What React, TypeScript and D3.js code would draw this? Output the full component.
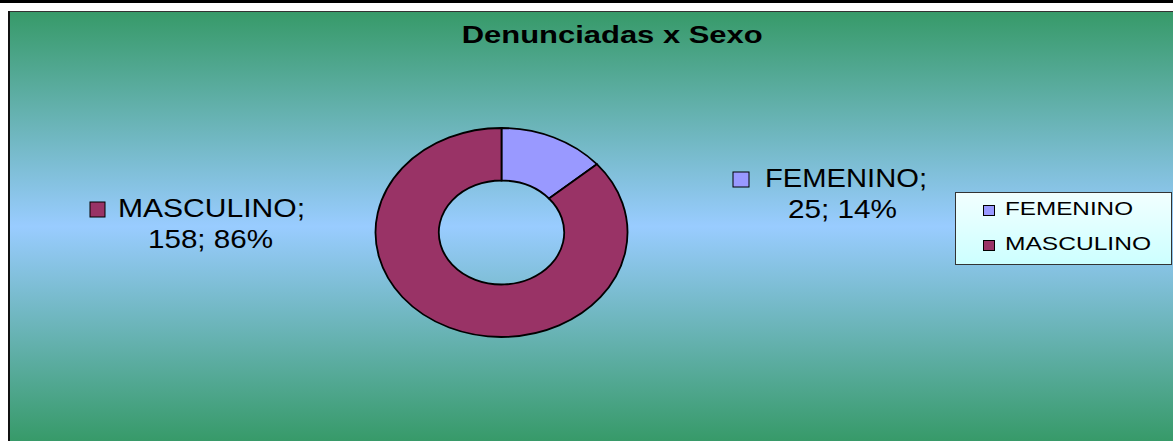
import React from "react";
import * as d3 from "d3";

const categories = ["FEMENINO", "MASCULINO"];
const values = [25, 158];
const colors = ["#9999ff", "#993366"];
const title = "Denunciadas x Sexo";

const W = 1173;
const H = 441;
const FONT = "'Liberation Sans', Arial, Helvetica, sans-serif";

export default function App() {
  const total = d3.sum(values);
  const pct = d3.format(".0%");
  const pie = d3.pie<number>().sort(null).startAngle(0).endAngle(2 * Math.PI);
  const arcs = pie(values);
  const ry = 104.5;
  const rx = 126;
  const arc = d3.arc<d3.PieArcDatum<number>>().innerRadius(52).outerRadius(ry);

  // label layout (positions only)
  const labelLayout = [
    { sq: [733, 172, 18], l1: [765, 187, 162], l2: [788, 218, 109] },
    { sq: [90, 202, 17], l1: [118, 217, 187], l2: [148, 248, 125] },
  ];
  const legendRows = [
    { sq: [983, 205, 11], t: [1005, 215, 128] },
    { sq: [983, 240, 11], t: [1005, 250, 146] },
  ];

  return (
    <svg width={W} height={H} style={{ position: "absolute", left: 0, top: 0 }} fontFamily={FONT}>
      <defs>
        <linearGradient id="bg" x1="0" y1="12" x2="0" y2="441" gradientUnits="userSpaceOnUse">
          <stop offset="0" stopColor="#379a69" />
          <stop offset="0.5" stopColor="#99ccff" />
          <stop offset="1" stopColor="#379a69" />
        </linearGradient>
        <linearGradient id="lg" x1="0" y1="0" x2="0" y2="1">
          <stop offset="0" stopColor="#f2ffff" />
          <stop offset="1" stopColor="#ccffff" />
        </linearGradient>
      </defs>
      <rect x={0} y={0} width={W} height={H} fill="#ffffff" />
      <rect x={0} y={0} width={W} height={3} fill="#000000" />
      <rect x={9} y={11} width={W - 9} height={H - 11} fill="url(#bg)" />
      <line x1={8} y1={11.5} x2={W} y2={11.5} stroke="#333333" strokeWidth={1.2} />
      <line x1={9} y1={11} x2={9} y2={H} stroke="#111111" strokeWidth={2} />

      <text x={461.7} y={43.3} fontSize={23} fontWeight="bold" fill="#000" textLength={301} lengthAdjust="spacingAndGlyphs">
        {title}
      </text>

      <g transform={`translate(501.5,232.5) scale(${rx / ry},1)`}>
        {arcs.map((a, i) => (
          <path
            key={categories[i]}
            d={arc(a) || ""}
            fill={colors[i]}
            stroke="#000"
            strokeWidth={1.8}
            vectorEffect="non-scaling-stroke"
          />
        ))}
      </g>

      {categories.map((c, i) => {
        const L = labelLayout[i];
        return (
          <g key={c}>
            <rect x={L.sq[0]} y={L.sq[1]} width={L.sq[2] - 2} height={15} fill={colors[i]} stroke="#000" strokeWidth={1} />
            <text x={L.l1[0]} y={L.l1[1]} fontSize={25} fill="#000" textLength={L.l1[2]} lengthAdjust="spacingAndGlyphs">
              {c + ";"}
            </text>
            <text x={L.l2[0]} y={L.l2[1]} fontSize={25} fill="#000" textLength={L.l2[2]} lengthAdjust="spacingAndGlyphs">
              {values[i] + "; " + pct(values[i] / total)}
            </text>
          </g>
        );
      })}

      <rect x={955.5} y={192.5} width={216} height={72} fill="url(#lg)" stroke="#333" strokeWidth={1} />
      {categories.map((c, i) => {
        const R = legendRows[i];
        return (
          <g key={"lg" + c}>
            <rect x={R.sq[0] + 0.5} y={R.sq[1] + 0.5} width={R.sq[2]} height={R.sq[2] - 1} fill={colors[i]} stroke="#000" strokeWidth={1} />
            <text x={R.t[0]} y={R.t[1]} fontSize={18.5} fill="#000" textLength={R.t[2]} lengthAdjust="spacingAndGlyphs">
              {c}
            </text>
          </g>
        );
      })}
    </svg>
  );
}
